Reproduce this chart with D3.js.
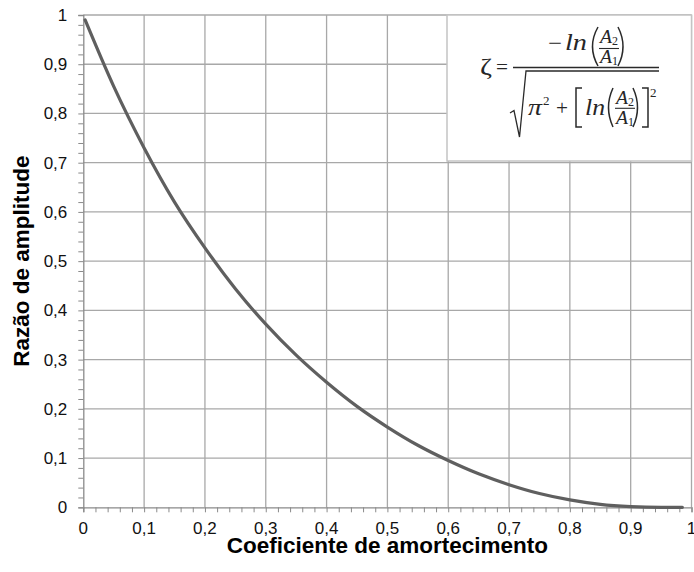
<!DOCTYPE html>
<html>
<head>
<meta charset="utf-8">
<script src="https://cdn.jsdelivr.net/npm/d3@7"></script>
<style>
  body { margin: 0; background: #fff; }
  svg text { font-family: "Liberation Sans", Arial, sans-serif; }
  .math text { font-family: "Liberation Serif", "DejaVu Serif", serif; fill: #262626; }
</style>
</head>
<body>
<div id="chart"></div>
<script>
// values
var dampingCoef = [0.003, 0.05, 0.1, 0.15, 0.2, 0.25, 0.3, 0.35, 0.4, 0.45, 0.5,
                   0.55, 0.6, 0.65, 0.7, 0.75, 0.8, 0.85, 0.9, 0.95, 0.985];
var amplitudeRatio = [0.99, 0.855, 0.73, 0.62, 0.527, 0.444, 0.372, 0.309, 0.254, 0.205, 0.163,
                      0.126, 0.095, 0.068, 0.046, 0.028, 0.015, 0.006, 0.0015, 0.0, 0.0];
var xTickValues = [0, 0.1, 0.2, 0.3, 0.4, 0.5, 0.6, 0.7, 0.8, 0.9, 1];
var xTickLabels = ["0", "0,1", "0,2", "0,3", "0,4", "0,5", "0,6", "0,7", "0,8", "0,9", "1"];
var yTickValues = [0, 0.1, 0.2, 0.3, 0.4, 0.5, 0.6, 0.7, 0.8, 0.9, 1];
var yTickLabels = ["0", "0,1", "0,2", "0,3", "0,4", "0,5", "0,6", "0,7", "0,8", "0,9", "1"];
var xTitle = "Coeficiente de amortecimento";
var yTitle = "Razão de amplitude";

var width = 694, height = 572;
var margin = {top: 15, right: 2.5, bottom: 64.7, left: 83.3};
var w = width - margin.left - margin.right;
var h = height - margin.top - margin.bottom;

var svg = d3.select("#chart").append("svg")
  .attr("width", width).attr("height", height);

var x = d3.scaleLinear().domain([0, 1]).range([margin.left, margin.left + w]);
var y = d3.scaleLinear().domain([0, 1]).range([margin.top + h, margin.top]);

// grid
svg.append("g").selectAll("line").data(xTickValues.slice(1)).enter()
  .append("line")
  .attr("x1", function(d){ return x(d); }).attr("x2", function(d){ return x(d); })
  .attr("y1", y(0)).attr("y2", y(1))
  .attr("stroke", "#a8a8a8").attr("stroke-width", 1.3);
svg.append("g").selectAll("line").data(yTickValues.slice(1)).enter()
  .append("line")
  .attr("x1", x(0)).attr("x2", x(1))
  .attr("y1", function(d){ return y(d); }).attr("y2", function(d){ return y(d); })
  .attr("stroke", "#a8a8a8").attr("stroke-width", 1.3);

// minor ticks every 0.02
var minor = d3.range(0, 1.0001, 0.02);
var xAxis = d3.axisBottom(x).tickValues(minor).tickSize(5).tickFormat("");
var yAxis = d3.axisLeft(y).tickValues(minor).tickSize(5).tickFormat("");
var gx = svg.append("g").attr("transform", "translate(0," + y(0) + ")").call(xAxis);
var gy = svg.append("g").attr("transform", "translate(" + x(0) + ",0)").call(yAxis);
[gx, gy].forEach(function(g){
  g.select(".domain").attr("stroke", "#8a8a8a").attr("stroke-width", 1.3);
  g.selectAll(".tick line").attr("stroke", "#8a8a8a").attr("stroke-width", 1);
});

// tick labels
svg.append("g").selectAll("text").data(xTickValues).enter()
  .append("text")
  .attr("x", function(d){ return x(d); })
  .attr("y", y(0) + 27)
  .attr("text-anchor", "middle")
  .attr("font-size", 17).attr("fill", "#111")
  .text(function(d, i){ return xTickLabels[i]; });
svg.append("g").selectAll("text").data(yTickValues).enter()
  .append("text")
  .attr("x", x(0) - 16)
  .attr("y", function(d){ return y(d); })
  .attr("dy", "0.35em")
  .attr("text-anchor", "end")
  .attr("font-size", 17).attr("fill", "#111")
  .text(function(d, i){ return yTickLabels[i]; });

// titles
svg.append("text")
  .attr("x", x(0.5)).attr("y", 553)
  .attr("text-anchor", "middle")
  .attr("font-size", 22.5).attr("font-weight", "bold")
  .text(xTitle);
svg.append("text")
  .attr("transform", "translate(29," + y(0.5) + ") rotate(-90)")
  .attr("text-anchor", "middle")
  .attr("font-size", 22.5).attr("font-weight", "bold")
  .text(yTitle);

// curve
var line = d3.line()
  .x(function(d, i){ return x(dampingCoef[i]); })
  .y(function(d){ return y(d); })
  .curve(d3.curveMonotoneX);
svg.append("path")
  .datum(amplitudeRatio)
  .attr("d", line)
  .attr("fill", "none")
  .attr("stroke", "#5f5f5f")
  .attr("stroke-width", 3.2)
  .attr("stroke-linecap", "round");

// formula box
var bx = 447, by = 15, bw = x(1) - 447, bh = 146;
svg.append("rect")
  .attr("x", bx).attr("y", by).attr("width", bw).attr("height", bh)
  .attr("fill", "#fff").attr("stroke", "#c4c4c4").attr("stroke-width", 1.5);

var m = svg.append("g").attr("class", "math");
function txt(s, tx, ty, size, italic, len) {
  var t = m.append("text").attr("x", tx).attr("y", ty).attr("font-size", size)
    .style("font-style", italic ? "italic" : "normal").text(s);
  if (len) t.attr("textLength", len).attr("lengthAdjust", "spacingAndGlyphs");
  return t;
}
function stroke(d, sw) {
  return m.append("path").attr("d", d).attr("fill", "none")
    .attr("stroke", "#2a2a2a").attr("stroke-width", sw || 1.3);
}
function lparen(x0, x1, y0, y1) {
  var mid = (y0 + y1) / 2;
  return stroke("M" + x1 + "," + y0 + " Q" + (x0 - 3) + "," + mid + " " + x1 + "," + y1, 1.5);
}
function rparen(x0, x1, y0, y1) {
  var mid = (y0 + y1) / 2;
  return stroke("M" + x0 + "," + y0 + " Q" + (x1 + 3) + "," + mid + " " + x0 + "," + y1, 1.5);
}
function smallFrac(x0, top, barY, bot) {
  txt("A", x0, top, 18, true, 12);
  txt("2", x0 + 12, top + 2, 12, false);
  stroke("M" + (x0 - 1) + "," + barY + " H" + (x0 + 19), 1.1);
  txt("A", x0, bot, 18, true, 12);
  txt("1", x0 + 12, bot + 2, 12, false);
}

// ζ =
txt("ζ", 480, 74, 23, false, 12);
txt("=", 496, 74, 22, false, 12);
// main fraction bar
stroke("M513,67.5 H659", 1.3);
// numerator
txt("−", 548, 50, 21, false, 14);
txt("ln", 565, 50, 23, true, 22);
lparen(590, 598, 27, 66);
smallFrac(600, 43, 48.5, 63);
rparen(618, 625, 27, 66);
// denominator: radical
stroke("M510,113 L514,110.5 L519.5,137 L526,71 H659", 1.3);
txt("π", 528, 115, 23, true, 14);
txt("2", 543, 105, 13, false);
txt("+", 556, 114.5, 22, false, 12);
stroke("M582,88 H576 V127 H582", 1.5);
txt("ln", 585, 115, 23, true, 20);
lparen(607, 613, 88, 127);
smallFrac(616, 104, 108.3, 124);
rparen(633, 639, 88, 127);
stroke("M642,88 H648 V127 H642", 1.5);
txt("2", 650, 97, 13, false);
</script>
</body>
</html>
